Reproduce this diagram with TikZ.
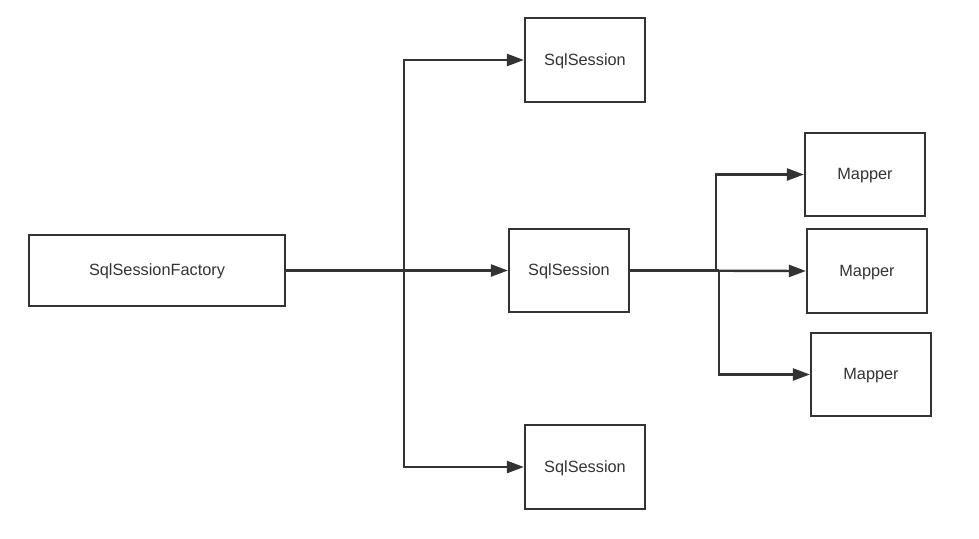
\documentclass[tikz,border=0pt]{standalone}
\usepackage{fontspec}
\setmainfont{Liberation Sans}
\usetikzlibrary{arrows.meta}
\definecolor{ink}{HTML}{333333}
\tikzset{
  box/.style={draw=ink, line width=2.2pt, minimum width=#1, inner sep=0pt,
    text height=10pt, text depth=0pt, font=\fontsize{16.3}{18}\selectfont, text=ink},
  link/.style={draw=ink, line width=2.4pt, -{Triangle[length=17pt,width=12pt]}},
  trunk/.style={draw=ink, line width=3.2pt}
}
\begin{document}
\begin{tikzpicture}[x=1pt,y=-1pt]
  \useasboundingbox (0,0) rectangle (979,538);
  % factory and sessions
  \node[box=256pt, minimum height=71pt] (fac) at (157,270.5) {SqlSessionFactory};
  \node[box=120pt, minimum height=84pt] (s1) at (585,60) {SqlSession};
  \node[box=120pt, minimum height=83pt] (s2) at (569,270.5) {SqlSession};
  \node[box=120pt, minimum height=84pt] (s3) at (585,467) {SqlSession};
  % mappers
  \node[box=120pt, minimum height=83pt] (m1) at (865,174.5) {Mapper};
  \node[box=120pt, minimum height=84pt] (m2) at (867,271) {Mapper};
  \node[box=120pt, minimum height=83pt] (m3) at (871,374.5) {Mapper};
  % branch points
  \coordinate (j1) at (404,270.5);
  \coordinate (j2a) at (716,270.5);
  \coordinate (j2b) at (719,270.5);
  % factory to sessions
  \draw[trunk] (fac.east) -- (j1);
  \draw[link] (j1) |- (s1.west);
  \draw[link] (fac.east) -- (s2.west);
  \draw[link] (j1) |- (s3.west);
  % session to mappers
  \draw[trunk] (s2.east) -- (j2b);
  \draw[link] (j2a) |- (m1.west);
  \draw[link] (s2.east) -- (m2.west);
  \draw[link] (j2b) |- (m3.west);
\end{tikzpicture}
\end{document}
